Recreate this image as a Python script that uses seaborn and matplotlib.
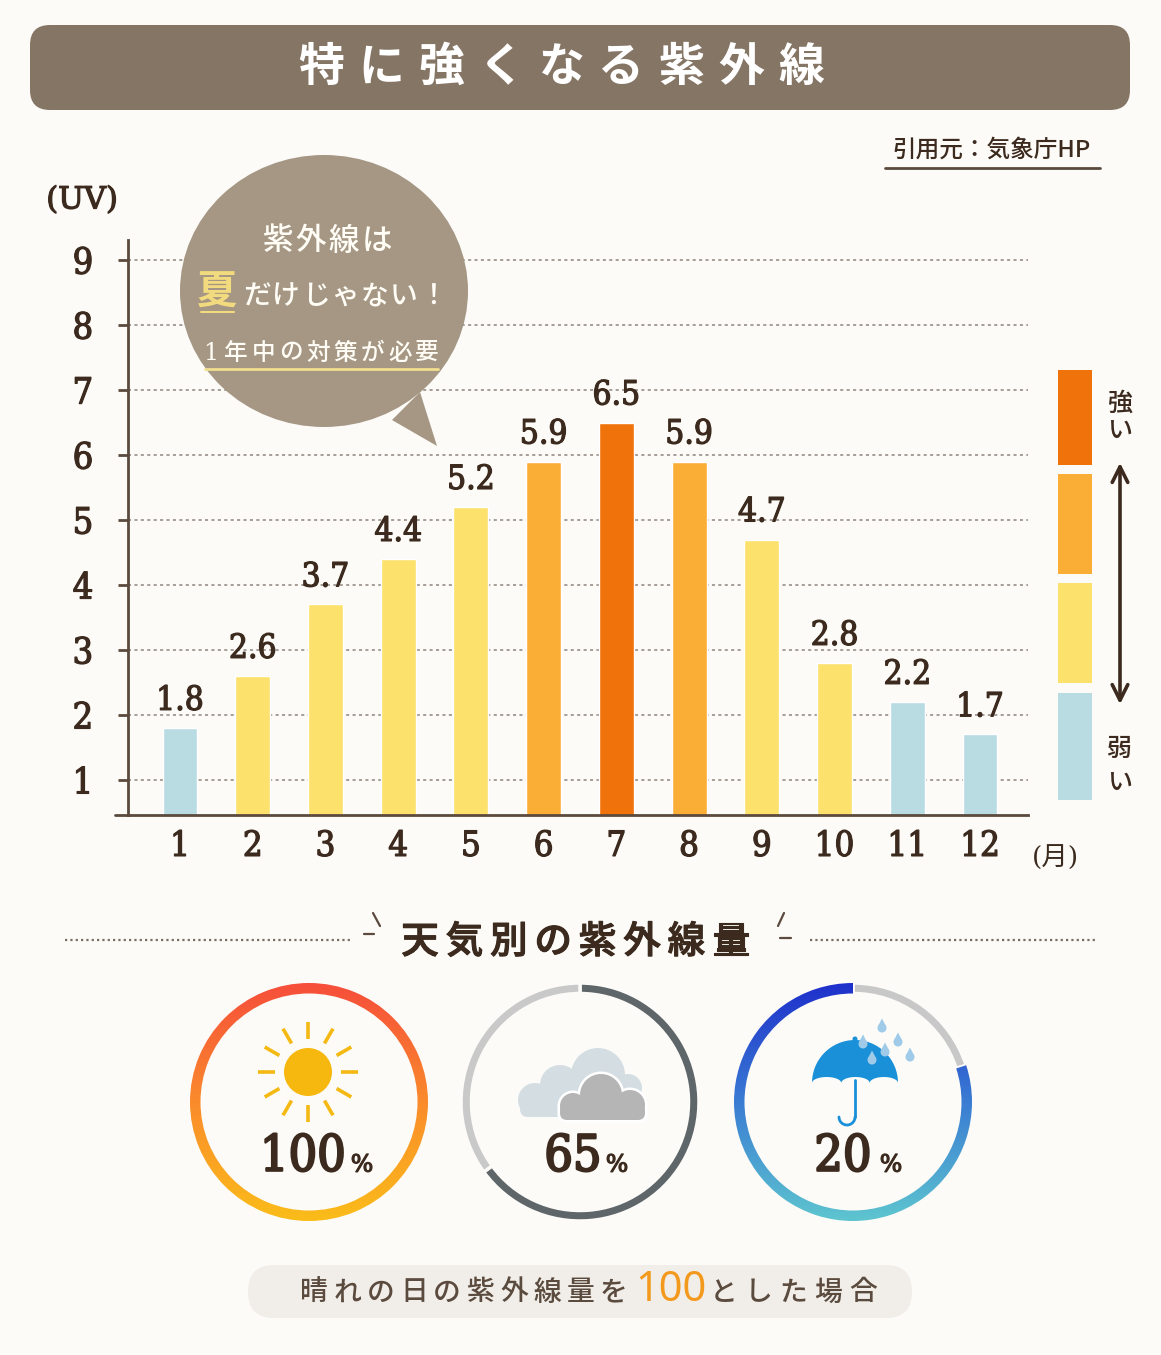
import numpy as np
import pandas as pd
import matplotlib
matplotlib.use('Agg')
import matplotlib.pyplot as plt
import matplotlib.patheffects as pe
import seaborn as sns
from matplotlib.patches import FancyBboxPatch, Ellipse, Polygon, Circle
from matplotlib.colors import LinearSegmentedColormap

# data
months = ['1', '2', '3', '4', '5', '6', '7', '8', '9', '10', '11', '12']
uv = [1.8, 2.6, 3.7, 4.4, 5.2, 5.9, 6.5, 5.9, 4.7, 2.8, 2.2, 1.7]
level = ['弱', '中', '中', '中', '中', '強', '最強', '強', '中', '中', '弱', '弱']
yticks = [1, 2, 3, 4, 5, 6, 7, 8, 9]
weather = ['晴れ', 'くもり', '雨']
weather_pct = [100, 65, 20]

level_colors = {'弱': '#B9DCE2', '中': '#FCE16C', '強': '#FBAE36', '最強': '#F0720A'}
BG = '#FCFBF8'
TXT = '#3B2A1D'
BROWN = '#5B4A3D'
NUM = ['DejaVu Serif', 'Noto Sans CJK JP']
THICK = [pe.withStroke(linewidth=0.9, foreground=TXT)]

sns.set_theme(style='white')
plt.rcParams['font.family'] = ['Noto Sans CJK JP', 'DejaVu Sans']

W, H = 1161, 1355
fig = plt.figure(figsize=(W / 100, H / 100), dpi=100)
fig.patch.set_facecolor(BG)

# ---- bar chart
ax = fig.add_axes([128 / W, 1 - 815 / H, 900 / W, 575 / H])
df = pd.DataFrame({'month': months, 'uv': uv, 'level': level})
sns.barplot(data=df, x='month', y='uv', hue='month',
            palette=[level_colors[l] for l in level], width=0.48,
            saturation=1, legend=False, ax=ax)
ax.set_facecolor('none')
ax.set_xlim(-0.715, 11.66)
ax.set_ylim(0.46, 9.31)
ax.set_yticks(yticks)
ax.set_xlabel('')
ax.set_ylabel('')
for s in ['top', 'right']:
    ax.spines[s].set_visible(False)
for s in ['left', 'bottom']:
    ax.spines[s].set_color(BROWN)
    ax.spines[s].set_linewidth(2)
ax.yaxis.grid(True, linestyle=(0, (2, 2.2)), color='#8E847B', linewidth=1.1)
ax.set_axisbelow(True)
ax.tick_params(axis='y', left=True, length=7, width=2, color=BROWN, pad=18,
               labelsize=26, labelcolor=TXT)
ax.tick_params(axis='x', length=0, pad=10, labelsize=25, labelcolor=TXT)
for lbl in ax.get_xticklabels() + ax.get_yticklabels():
    lbl.set_fontfamily(NUM)
    lbl.set_fontstretch('condensed')
    lbl.set_path_effects(THICK)
for c in ax.containers:
    ax.bar_label(c, fmt='%.1f', padding=8, fontsize=24, color=TXT,
                 fontfamily=NUM, fontstretch='condensed', path_effects=THICK)

# ---- overlay for decorations
ov = fig.add_axes([0, 0, 1, 1], zorder=5)
ov.set_xlim(0, W)
ov.set_ylim(H, 0)
ov.axis('off')
ov.patch.set_alpha(0)


def spaced(x0, y, s, pitch, **kw):
    for i, ch in enumerate(s):
        ov.text(x0 + i * pitch, y, ch, ha='center', va='center', **kw)


# title banner
ov.add_patch(FancyBboxPatch((30, 25), 1100, 85, boxstyle='round,pad=0,rounding_size=20',
                            fc='#857565', ec='none'))
spaced(321, 68, '特に強くなる紫外線', 60, color='white', fontsize=33, fontweight='bold')

# source
ov.text(992, 150, '引用元：気象庁HP', fontsize=17, ha='center', va='center', color=TXT,
        fontweight='medium')
ov.plot([885, 1100], [168, 168], color=BROWN, lw=2)

ov.text(82, 200, '(UV)', fontsize=22, ha='center', va='center', color=TXT,
        family=NUM, path_effects=THICK)
ov.text(1055, 858, '(月)', fontsize=19, ha='center', va='center', color=TXT,
        family=NUM)
ov.plot([115, 129], [815, 815], color=BROWN, lw=2)

# speech bubble
ov.add_patch(Ellipse((324, 291), 288, 272, fc='#A59784', ec='none'))
ov.add_patch(Polygon([(392, 420), (437, 446), (420, 392)], closed=True, fc='#A59784', ec='none'))
spaced(278, 241, '紫外線は', 33, color='#FFFDF6', fontsize=22, fontweight='medium')
ov.text(217, 293, '夏', fontsize=29, ha='center', va='center', color='#F2DA7E', fontweight='bold')
ov.plot([201, 234], [312, 312], color='#F2DA7E', lw=1.5)
spaced(257, 296, 'だけじゃない！', 29.3, color='#FFFDF6', fontsize=20, fontweight='medium')
ov.text(211, 353, '1', fontsize=17, ha='center', va='center', color='#FFFDF6', family=NUM)
spaced(236, 353, '年中の対策が必要', 27.3, color='#FFFDF6', fontsize=17, fontweight='medium')
ov.plot([205, 438], [369, 369], color='#F1DE8F', lw=2)

# right-side key
key = [('最強', 370, 465), ('強', 474, 574), ('中', 583, 683), ('弱', 693, 800)]
for lv, y0, y1 in key:
    ov.add_patch(plt.Rectangle((1058, y0), 34, y1 - y0, fc=level_colors[lv], ec='none'))
for ch, y in [('強', 404), ('い', 432), ('弱', 749), ('い', 784)]:
    ov.text(1120, y, ch, fontsize=18, ha='center', va='center', color=TXT, fontweight='medium')
ov.annotate('', xy=(1120, 460), xytext=(1120, 707),
            arrowprops=dict(arrowstyle='<->', lw=2.6, color=TXT, mutation_scale=28))

# section header
ov.plot([65, 350], [940, 940], color='#7A6D63', lw=1.6, linestyle=(0, (1, 1.4)))
ov.plot([810, 1095], [940, 940], color='#7A6D63', lw=1.6, linestyle=(0, (1, 1.4)))
ov.plot([373, 380], [913, 926], color=BROWN, lw=1.6)
ov.plot([364, 374], [934, 934], color=BROWN, lw=1.6)
ov.plot([784, 778], [913, 926], color=BROWN, lw=1.6)
ov.plot([780, 791], [938, 938], color=BROWN, lw=1.6)
spaced(420, 942, '天気別の紫外線量', 44.4, color=TXT, fontsize=27, fontweight='medium',
       path_effects=[pe.withStroke(linewidth=0.8, foreground=TXT)])

# ---- weather rings
sun_cmap = LinearSegmentedColormap.from_list('sun', ['#F64C3B', '#FA8B2C', '#FBBE19'])
rain_cmap = LinearSegmentedColormap.from_list('rain', ['#1E2ECB', '#3A7CD3', '#5FC7CF'])
ring_specs = [
    (309, [weather_pct[0]], [sun_cmap], 0),
    (580, [weather_pct[1], 100 - weather_pct[1]], ['#5E666A', '#C9C9C9'], 2.5),
    (853, [weather_pct[2], 100 - weather_pct[2]], ['#C8C8C8', rain_cmap], 2.5),
]
R = 122
for cx, vals, cols, lw in ring_specs:
    a = fig.add_axes([(cx - R) / W, 1 - (1102 + R) / H, 2 * R / W, 2 * R / H], zorder=3)
    wedges, _ = a.pie(vals, radius=119 / R, startangle=90, counterclock=False,
                      colors=['#000000'] * len(vals),
                      wedgeprops=dict(width=10.5 / R, edgecolor=BG, linewidth=lw))
    for w, col in zip(wedges, cols):
        if isinstance(col, str):
            w.set_facecolor(col)
        else:
            w.set_facecolor('none')
            im = a.imshow(np.linspace(0, 1, 256).reshape(-1, 1), cmap=col,
                          extent=(-1, 1, -1, 1), origin='upper', aspect='auto', zorder=1)
            im.set_clip_path(w)
    a.set_xlim(-1, 1)
    a.set_ylim(-1, 1)
    a.axis('off')

# percent labels
pct_pos = [(303, 362), (573, 617), (843, 891)]
for (nx, px), p in zip(pct_pos, weather_pct):
    ov.text(nx, 1157, str(p), fontsize=36, ha='center', va='center', color=TXT,
            family=NUM, fontstretch='condensed',
            path_effects=[pe.withStroke(linewidth=1.6, foreground=TXT)])
    ov.text(px, 1165, '%', fontsize=17, ha='center', va='center', color=TXT,
            family=NUM, path_effects=THICK)

# sun icon
ov.add_patch(Circle((308, 1072), 24, fc='#F6B80F', ec='none'))
for ang in np.arange(0, 360, 30):
    t = np.radians(ang)
    ov.plot([308 + 33 * np.cos(t), 308 + 50 * np.cos(t)],
            [1072 + 33 * np.sin(t), 1072 + 50 * np.sin(t)],
            color='#F5B913', lw=2.6, solid_capstyle='butt')

# cloud icon
back = [(535, 1100, 17), (560, 1085, 20), (598, 1075, 27), (628, 1088, 14)]
for x, y, r in back:
    ov.add_patch(Circle((x, y), r, fc='#D4DEE2', ec='none'))
ov.add_patch(FancyBboxPatch((520, 1097), 120, 20, boxstyle='round,pad=0,rounding_size=8',
                            fc='#D4DEE2', ec='none'))
front = [(573, 1106, 13), (601, 1095, 21), (630, 1105, 15)]
for x, y, r in front:
    ov.add_patch(Circle((x, y), r + 2.5, fc='white', ec='none'))
ov.add_patch(FancyBboxPatch((557.5, 1101.5), 90, 21, boxstyle='round,pad=0,rounding_size=8',
                            fc='white', ec='none'))
for x, y, r in front:
    ov.add_patch(Circle((x, y), r, fc='#B5B5B5', ec='none'))
ov.add_patch(FancyBboxPatch((560, 1104), 85, 16, boxstyle='round,pad=0,rounding_size=7',
                            fc='#B5B5B5', ec='none'))

# umbrella icon
UMB = '#1A90D9'
t = np.linspace(np.pi, 0, 60)
top = list(zip(855 + 43 * np.cos(t), 1083 - 43 * np.sin(t)))
edges = [898, 869.7, 841.3, 812]
scal = []
for xa, xb in zip(edges[:-1], edges[1:]):
    s = np.linspace(0, np.pi, 20)
    xs = xa + (xb - xa) * (1 - np.cos(s)) / 2
    ys = 1083 - 6 * np.sin(s)
    scal += list(zip(xs, ys))
ov.add_patch(Polygon(top + scal, closed=True, fc=UMB, ec='none'))
ov.add_patch(Circle((855, 1039), 2.5, fc=UMB, ec='none'))
ov.plot([855, 855], [1080, 1117], color=UMB, lw=2)
s = np.linspace(0, np.pi, 30)
ov.plot(847 + 8 * np.cos(s), 1117 + 8 * np.sin(s), color=UMB, lw=2)
for x, y in [(882, 1026), (863, 1042), (898, 1040), (885, 1050), (910, 1055), (872, 1058)]:
    ov.add_patch(Circle((x, y + 2), 4.5, fc='#9FCBE8', ec='none'))
    ov.add_patch(Polygon([(x - 4.2, y + 0.5), (x, y - 7.5), (x + 4.2, y + 0.5)], closed=True,
                         fc='#9FCBE8', ec='none'))

# bottom note
ov.add_patch(FancyBboxPatch((248, 1265), 664, 53, boxstyle='round,pad=0,rounding_size=26',
                            fc='#F1EEE9', ec='none'))
spaced(314, 1292, '晴れの日の紫外線量を', 33.3, color='#5B4B3E', fontsize=20, fontweight='medium')
ov.text(671, 1290, '100', fontsize=30, ha='center', va='center', color='#F39A1E',
        family=['Noto Sans', 'DejaVu Sans'], fontweight='medium')
spaced(724, 1292, 'とした場合', 34.7, color='#5B4B3E', fontsize=20, fontweight='medium')

fig.savefig('out.png', dpi=100, facecolor=BG)
